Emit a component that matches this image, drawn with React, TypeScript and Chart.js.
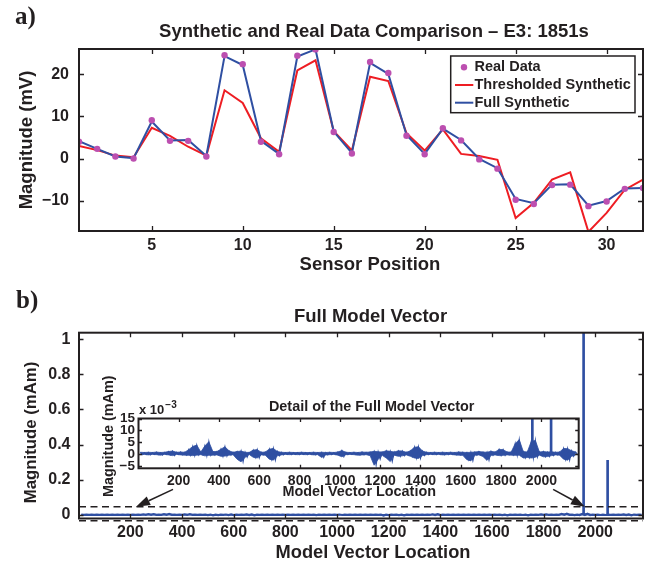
import React, { useEffect, useRef } from 'react';
import { Chart, registerables } from 'chart.js';

Chart.register(...registerables);

const INK = '#231F20';
const BLUE = '#2F4FA2';
const RED = '#EE1D23';
const MAGENTA = '#BC4FB0';
const SANS = '"Liberation Sans", Arial, Helvetica, sans-serif';
const SERIF = '"Liberation Serif", "Times New Roman", serif';

// ---------- Panel a) data ----------
const sensorPositions = [1, 2, 3, 4, 5, 6, 7, 8, 9, 10, 11, 12, 13, 14, 15, 16, 17, 18, 19, 20, 21, 22, 23, 24, 25, 26, 27, 28, 29, 30, 31, 32];
const realData = [4.0, 2.3, 0.5, 0.0, 9.1, 4.2, 4.2, 0.5, 24.5, 22.4, 4.0, 1.0, 24.4, 25.9, 6.3, 1.2, 22.9, 20.3, 5.4, 1.0, 7.2, 4.3, -0.2, -2.4, -9.8, -10.8, -6.3, -6.2, -11.3, -10.2, -7.2, -7.0];
const fullSynthetic = [4.1, 2.3, 0.5, 0.1, 8.8, 4.3, 4.4, 0.6, 24.3, 22.2, 4.2, 1.1, 24.2, 25.9, 6.4, 1.3, 22.7, 20.1, 5.6, 1.1, 7.1, 4.4, -0.1, -2.3, -9.6, -10.6, -6.2, -6.1, -11.2, -10.1, -7.1, -7.0];
const thresholdedSynthetic = [3.0, 2.0, 0.7, 0.3, 7.3, 5.4, 2.8, 0.7, 16.2, 13.2, 4.8, 1.6, 20.9, 23.3, 6.5, 1.9, 19.4, 18.4, 6.0, 1.9, 6.9, 1.1, 0.6, -0.3, -14.1, -10.5, -5.0, -3.3, -17.4, -12.9, -7.4, -5.0];
const sensorTicks = [5, 10, 15, 20, 25, 30];
const mvTicks = [-10, 0, 10, 20];

// ---------- Panel b) data (model vector envelope, in 1e-3 mAm) ----------
const vectorLoc = [
  10, 30, 50, 70, 90, 110, 130, 150, 170, 190,
  210, 230, 250, 270, 290, 310, 330, 350, 370, 390,
  410, 430, 450, 470, 490, 510, 530, 550, 570, 590,
  610, 630, 650, 670, 690, 710, 730, 750, 770, 790,
  810, 830, 850, 870, 890, 910, 930, 950, 970, 990,
  1010, 1030, 1050, 1070, 1090, 1110, 1130, 1150, 1170, 1190,
  1210, 1230, 1250, 1270, 1290, 1310, 1330, 1350, 1370, 1390,
  1410, 1430, 1450, 1470, 1490, 1510, 1530, 1550, 1570, 1590,
  1610, 1630, 1650, 1670, 1690, 1710, 1730, 1750, 1770, 1790,
  1810, 1830, 1850, 1870, 1890, 1910, 1930, 1950, 1970, 1990,
  2010, 2030, 2050, 2070, 2090, 2110, 2130, 2150, 2170,
];
const vectorHigh = [
  0.9, 0.8, 0.9, 0.8, 1.0, 0.8, 0.9, 1.2, 1.4, 0.9,
  1.0, 0.9, 2.0, 3.3, 3.9, 1.0, 3.5, 5.3, 1.2, 1.2,
  2.2, 3.2, 1.5, 0.9, 1.2, 1.4, 0.9, 0.8, 1.8, 2.0,
  0.9, 1.0, 2.2, 2.5, 1.2, 0.9, 0.8, 0.9, 0.8, 0.8,
  0.9, 0.8, 0.8, 0.9, 0.8, 0.9, 0.8, 0.9, 0.8, 1.0,
  1.6, 0.9, 0.8, 0.9, 0.8, 1.0, 0.9, 1.0, 1.3, 1.1,
  1.0, 1.5, 1.3, 1.0, 1.5, 1.4, 0.9, 1.5, 3.0, 3.2,
  1.4, 0.9, 0.8, 0.9, 0.8, 0.9, 0.8, 0.9, 0.8, 1.0,
  0.9, 0.8, 0.9, 1.0, 1.2, 1.0, 0.9, 1.3, 1.0, 2.1,
  2.0, 1.0, 1.0, 4.5, 6.2, 1.2, 1.0, 5.5, 5.8, 1.0,
  1.2, 1.0, 1.1, 0.9, 1.0, 2.5, 2.4, 1.5, 1.0,
];
const vectorLow = [
  -0.1, 0.0, -0.2, 0.0, -0.1, -0.3, 0.0, -0.2, -0.5, 0.0,
  -0.2, -0.3, -0.4, -0.5, -0.3, -0.1, -0.6, -0.4, -0.3, -0.2,
  -0.8, -0.7, -0.3, -0.1, -2.0, -3.1, -1.2, 0.0, -1.2, -1.5,
  -0.2, -0.3, -2.0, -2.4, -0.6, -0.2, 0.0, -0.1, 0.0, -0.1,
  0.0, -0.1, 0.0, -0.2, -0.1, -1.3, -0.2, -0.1, 0.0, -0.3,
  -1.0, -0.1, 0.0, -0.1, -0.3, -0.2, -0.1, -0.5, -4.5, -2.0,
  -0.4, -1.5, -3.0, -0.3, -0.8, -0.6, -0.2, -0.8, -1.5, -1.7,
  -0.5, -0.1, 0.0, -0.1, 0.0, -0.2, -0.1, 0.0, -0.2, -0.3,
  -0.4, -2.2, -2.7, -0.3, -0.2, -0.9, -2.5, -0.4, -0.2, -0.5,
  -0.4, -0.2, -0.3, -0.4, -0.3, -1.5, -1.3, -1.5, -1.2, -0.3,
  -1.0, -0.9, -0.5, -0.2, -0.3, -2.0, -2.4, -0.8, -0.2,
];
const spikeLoc = [1955, 2048];
const spikeValue = [1.037, 0.31]; // mAm
const locTicks = [200, 400, 600, 800, 1000, 1200, 1400, 1600, 1800, 2000];
const mamTicks = [0, 0.2, 0.4, 0.6, 0.8, 1];
const detailTicks = [-5, 0, 5, 10, 15];
const zoomBand = [0.046, -0.034]; // dashed band, mAm
const arrowTail = [[365, 0.145], [1837, 0.145]];
const arrowHead = [[222, 0.046], [1960, 0.046]];

const fmtTick = (v: number) => {
  const s = String(Math.round(v * 1000) / 1000);
  return s.startsWith('-') ? '\u2212' + s.slice(1) : s;
};

const pts = (xs: number[], ys: number[]) => xs.map((x, i) => ({ x, y: ys[i] }));
const scaled = (ys: number[], k: number) => ys.map((v) => v * k);
// noisy trace: alternate between the upper and lower envelope samples
const trace = (k: number) =>
  vectorLoc.flatMap((x, i) => [
    { x, y: vectorHigh[i] * k },
    { x: x + 10, y: vectorLow[i] * k },
  ]);

type TextItem = {
  text: string;
  x: number;
  y: number;
  size: number;
  align?: CanvasTextAlign;
  baseline?: CanvasTextBaseline;
  rotate?: boolean;
  family?: string;
  sup?: string;
  supSize?: number;
};

type DecorCfg = {
  tickLen: number;
  borderWidth: number;
  texts: TextItem[];
  extras?: (chart: any) => void;
};

function makeDecor(cfg: DecorCfg) {
  return {
    id: 'decor',
    afterDatasetsDraw(chart: any) {
      if (cfg.extras) cfg.extras(chart);
    },
    afterDraw(chart: any) {
      const { ctx, chartArea: a, scales } = chart;
      ctx.save();
      ctx.strokeStyle = INK;
      ctx.lineWidth = 1.3;
      const L = cfg.tickLen;
      scales.x.ticks.forEach((t: any) => {
        const px = Math.round(scales.x.getPixelForValue(t.value)) + 0.5;
        ctx.beginPath();
        ctx.moveTo(px, a.bottom);
        ctx.lineTo(px, a.bottom - L);
        ctx.moveTo(px, a.top);
        ctx.lineTo(px, a.top + L);
        ctx.stroke();
      });
      scales.y.ticks.forEach((t: any) => {
        const py = Math.round(scales.y.getPixelForValue(t.value)) + 0.5;
        ctx.beginPath();
        ctx.moveTo(a.left, py);
        ctx.lineTo(a.left + L, py);
        ctx.moveTo(a.right, py);
        ctx.lineTo(a.right - L, py);
        ctx.stroke();
      });
      ctx.lineWidth = cfg.borderWidth;
      ctx.strokeRect(a.left, a.top, a.right - a.left, a.bottom - a.top);

      ctx.fillStyle = INK;
      cfg.texts.forEach((t) => {
        ctx.save();
        ctx.font = `bold ${t.size}px ${t.family || SANS}`;
        ctx.textAlign = t.align || 'center';
        ctx.textBaseline = t.baseline || 'middle';
        ctx.translate(t.x, t.y);
        if (t.rotate) ctx.rotate(-Math.PI / 2);
        ctx.fillText(t.text, 0, 0);
        if (t.sup) {
          const w = ctx.measureText(t.text).width;
          ctx.font = `bold ${t.supSize || 10}px ${t.family || SANS}`;
          ctx.textAlign = 'left';
          ctx.fillText(t.sup, w + 1, -t.size * 0.45);
        }
        ctx.restore();
      });
      ctx.restore();
    },
  };
}

const tickFont = (size: number) => ({ family: SANS, size, weight: 'bold' as const });

function linScale(opts: {
  min: number;
  max: number;
  ticks: number[];
  size: number;
  fontSize: number;
  padding: number;
  horizontal: boolean;
}) {
  return {
    type: 'linear' as const,
    min: opts.min,
    max: opts.max,
    offset: false,
    grid: { display: false, drawTicks: false, tickLength: 0 },
    border: { display: false },
    afterBuildTicks: (s: any) => {
      s.ticks = opts.ticks.map((v) => ({ value: v }));
    },
    afterFit: (s: any) => {
      if (opts.horizontal) s.height = opts.size;
      else s.width = opts.size;
    },
    ticks: {
      font: tickFont(opts.fontSize),
      color: INK,
      padding: opts.padding,
      autoSkip: false,
      maxRotation: 0,
      minRotation: 0,
      callback: (v: any) => fmtTick(Number(v)),
    },
  };
}

function drawArrow(ctx: CanvasRenderingContext2D, x0: number, y0: number, x1: number, y1: number) {
  const ang = Math.atan2(y1 - y0, x1 - x0);
  const L = 14;
  const W = 4.8;
  const bx = x1 - L * Math.cos(ang);
  const by = y1 - L * Math.sin(ang);
  ctx.beginPath();
  ctx.moveTo(x0, y0);
  ctx.lineTo(bx, by);
  ctx.stroke();
  ctx.beginPath();
  ctx.moveTo(x1, y1);
  ctx.lineTo(bx + W * Math.sin(ang), by - W * Math.cos(ang));
  ctx.lineTo(bx - W * Math.sin(ang), by + W * Math.cos(ang));
  ctx.closePath();
  ctx.fill();
}

// kVector: scale of the envelope arrays (stored in 1e-3 mAm); kSpike: scale of spikeValue (stored in mAm)
function vectorDatasets(kVector: number, kSpike: number, lineW: number): any[] {
  return [
    {
      type: 'bar',
      label: 'Spikes',
      data: pts(spikeLoc, scaled(spikeValue, kSpike)),
      backgroundColor: BLUE,
      barThickness: 2,
      order: 0,
    },
    {
      label: 'Model Vector',
      data: trace(kVector),
      borderColor: BLUE,
      borderWidth: lineW,
      pointRadius: 0,
      fill: false,
      order: 1,
    },
    {
      label: 'Model Vector (upper)',
      data: pts(vectorLoc, scaled(vectorHigh, kVector)),
      borderColor: BLUE,
      borderWidth: 0.8,
      pointRadius: 0,
      fill: false,
      order: 2,
    },
    {
      label: 'Model Vector (lower)',
      data: pts(vectorLoc, scaled(vectorLow, kVector)),
      borderColor: BLUE,
      backgroundColor: BLUE,
      borderWidth: 0.8,
      pointRadius: 0,
      fill: '-1',
      order: 3,
    },
  ];
}

function buildTop(): any {
  const legendRows = [
    { label: 'Real Data', kind: 'dot', color: MAGENTA },
    { label: 'Thresholded Synthetic', kind: 'line', color: RED },
    { label: 'Full Synthetic', kind: 'line', color: BLUE },
  ];
  const decor = makeDecor({
    tickLen: 5,
    borderWidth: 2,
    texts: [
      { text: 'a)', x: 15, y: 23.5, size: 25, align: 'left', baseline: 'alphabetic', family: SERIF },
      { text: 'Synthetic and Real Data Comparison \u2013 E3: 1851s', x: 374, y: 32, size: 18.5 },
      { text: 'Sensor Position', x: 370, y: 265, size: 18.5 },
      { text: 'Magnitude (mV)', x: 26.5, y: 140, size: 18.5, rotate: true },
    ],
    extras: (chart: any) => {
      const { ctx } = chart;
      ctx.save();
      const bx = 450.7, by = 56, bw = 184.3, bh = 56.7;
      ctx.fillStyle = '#fff';
      ctx.fillRect(bx, by, bw, bh);
      ctx.strokeStyle = INK;
      ctx.lineWidth = 1.5;
      ctx.strokeRect(bx, by, bw, bh);
      legendRows.forEach((r, i) => {
        const y = 67.3 + i * 17.7;
        if (r.kind === 'dot') {
          ctx.fillStyle = r.color;
          ctx.beginPath();
          ctx.arc(464, y, 3.2, 0, Math.PI * 2);
          ctx.fill();
        } else {
          ctx.strokeStyle = r.color;
          ctx.lineWidth = 2;
          ctx.beginPath();
          ctx.moveTo(455, y);
          ctx.lineTo(473.3, y);
          ctx.stroke();
        }
        ctx.fillStyle = INK;
        ctx.font = `bold 14.5px ${SANS}`;
        ctx.textAlign = 'left';
        ctx.textBaseline = 'middle';
        ctx.fillText(r.label, 474.5, y);
      });
      ctx.restore();
    },
  });
  return {
    type: 'line',
    data: {
      datasets: [
        {
          label: 'Real Data',
          data: pts(sensorPositions, realData),
          showLine: false,
          pointRadius: 3.2,
          pointBackgroundColor: MAGENTA,
          pointBorderColor: MAGENTA,
          pointBorderWidth: 0,
          order: 0,
        },
        {
          label: 'Full Synthetic',
          data: pts(sensorPositions, fullSynthetic),
          borderColor: BLUE,
          borderWidth: 2,
          pointRadius: 0,
          order: 1,
        },
        {
          label: 'Thresholded Synthetic',
          data: pts(sensorPositions, thresholdedSynthetic),
          borderColor: RED,
          borderWidth: 2,
          pointRadius: 0,
          order: 2,
        },
      ],
    },
    options: {
      responsive: false,
      animation: false,
      events: [],
      layout: { padding: { top: 49, right: 9, left: 0, bottom: 0 } },
      plugins: { legend: { display: false }, tooltip: { enabled: false }, title: { display: false } },
      scales: {
        x: linScale({ min: 1, max: 32, ticks: sensorTicks, size: 52, fontSize: 16, padding: 5, horizontal: true }),
        y: linScale({ min: -17.2, max: 26, ticks: mvTicks, size: 79, fontSize: 16, padding: 10, horizontal: false }),
      },
    },
    plugins: [decor],
  };
}

function buildMain(): any {
  const decor = makeDecor({
    tickLen: 4.5,
    borderWidth: 2,
    texts: [
      { text: 'b)', x: 16, y: 25.3, size: 25, align: 'left', baseline: 'alphabetic', family: SERIF },
      { text: 'Full Model Vector', x: 370.5, y: 33.7, size: 18.5 },
      { text: 'Model Vector Location', x: 373, y: 270.3, size: 18.3 },
      { text: 'Magnitude (mAm)', x: 31.7, y: 149.5, size: 16.8, rotate: true },
    ],
    extras: (chart: any) => {
      const { ctx, chartArea: a, scales } = chart;
      ctx.save();
      ctx.strokeStyle = INK;
      ctx.fillStyle = INK;
      ctx.lineWidth = 1.6;
      ctx.setLineDash([7, 4.5]);
      zoomBand.forEach((v) => {
        const py = scales.y.getPixelForValue(v);
        ctx.beginPath();
        ctx.moveTo(a.left, py);
        ctx.lineTo(a.right, py);
        ctx.stroke();
      });
      ctx.setLineDash([]);
      ctx.lineWidth = 1.5;
      arrowTail.forEach((t, i) => {
        const h = arrowHead[i];
        drawArrow(
          ctx,
          scales.x.getPixelForValue(t[0]),
          scales.y.getPixelForValue(t[1]),
          scales.x.getPixelForValue(h[0]),
          scales.y.getPixelForValue(h[1]),
        );
      });
      ctx.restore();
    },
  });
  return {
    type: 'line',
    data: { datasets: vectorDatasets(0.001, 1, 2.2) },
    options: {
      responsive: false,
      animation: false,
      events: [],
      layout: { padding: { top: 49.7, right: 9, left: 0, bottom: 0 } },
      plugins: { legend: { display: false }, tooltip: { enabled: false }, title: { display: false } },
      scales: {
        x: linScale({ min: 1, max: 2185, ticks: locTicks, size: 44.5, fontSize: 16, padding: 4.5, horizontal: true }),
        y: linScale({ min: -0.021, max: 1.037, ticks: mamTicks, size: 79, fontSize: 16, padding: 8.5, horizontal: false }),
      },
    },
    plugins: [decor],
  };
}

function buildInset(): any {
  const decor = makeDecor({
    tickLen: 3.5,
    borderWidth: 2,
    texts: [
      { text: 'Detail of the Full Model Vector', x: 281.7, y: 46.7, size: 14.4 },
      { text: 'x 10', x: 49, y: 54, size: 13, align: 'left', baseline: 'alphabetic', sup: '\u22123', supSize: 10 },
      { text: 'Model Vector Location', x: 269.2, y: 132.3, size: 14.4 },
      { text: 'Magnitude (mAm)', x: 19.3, y: 76.2, size: 14.4, rotate: true },
    ],
  });
  return {
    type: 'line',
    data: { datasets: vectorDatasets(1, 1000, 1.1) },
    options: {
      responsive: false,
      animation: false,
      events: [],
      layout: { padding: { top: 58.5, right: 11.3, left: 0, bottom: 0 } },
      plugins: { legend: { display: false }, tooltip: { enabled: false }, title: { display: false } },
      scales: {
        x: linScale({ min: 1, max: 2185, ticks: locTicks, size: 36.7, fontSize: 14, padding: 4, horizontal: true }),
        y: linScale({ min: -5.8, max: 15, ticks: detailTicks, size: 48.5, fontSize: 13.5, padding: 3.5, horizontal: false }),
      },
    },
    plugins: [decor],
  };
}

function ChartCanvas(props: { left: number; top: number; width: number; height: number; build: () => any }) {
  const ref = useRef<HTMLCanvasElement>(null);
  useEffect(() => {
    if (!ref.current) return;
    const chart = new Chart(ref.current, props.build());
    return () => chart.destroy();
  }, []);
  return (
    <canvas
      ref={ref}
      width={props.width}
      height={props.height}
      style={{ position: 'absolute', left: props.left, top: props.top, width: props.width, height: props.height }}
    />
  );
}

export default function App() {
  return (
    <div style={{ position: 'absolute', left: 0, top: 0, width: 652, height: 563, background: '#fff', overflow: 'hidden' }}>
      <ChartCanvas left={0} top={0} width={652} height={283} build={buildTop} />
      <ChartCanvas left={0} top={283} width={652} height={280} build={buildMain} />
      <ChartCanvas left={90} top={360} width={500} height={145} build={buildInset} />
    </div>
  );
}
